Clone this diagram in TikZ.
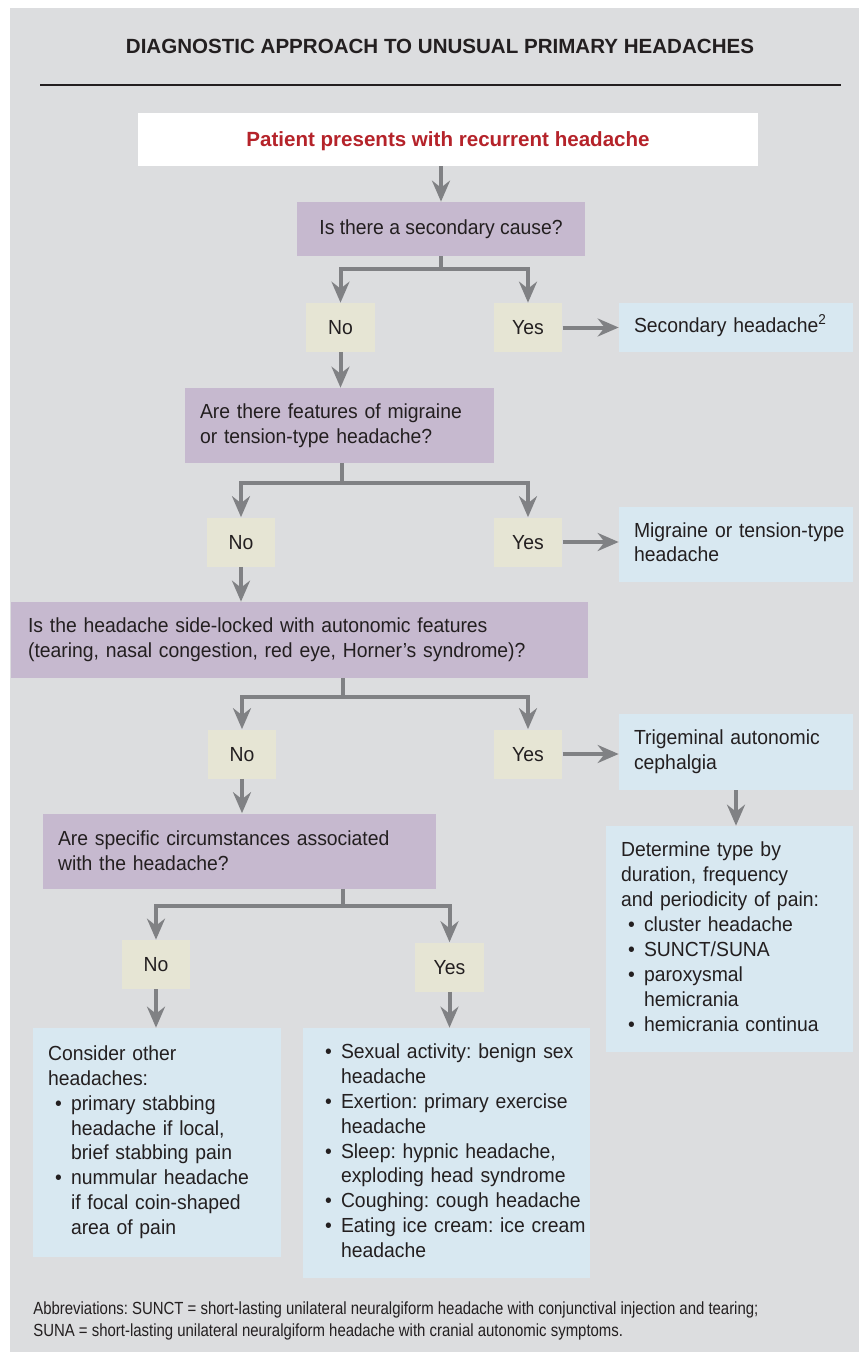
\documentclass[tikz,border=0pt]{standalone}
\usepackage{fontspec}
\setmainfont{Liberation Sans}
\newfontfamily\bodyfont[FakeStretch=0.95]{Liberation Sans}
\newfontfamily\notefont[FakeStretch=0.85]{Liberation Sans}
\usetikzlibrary{arrows.meta}

\definecolor{panelgray}{HTML}{DCDDDF}
\definecolor{qpurple}{HTML}{C6B9CF}
\definecolor{ansbeige}{HTML}{E6E5D4}
\definecolor{outblue}{HTML}{D8E8F1}
\definecolor{linkgray}{HTML}{808184}
\definecolor{headred}{HTML}{B5232A}
\definecolor{ink}{HTML}{231F20}

% bullet item, its continuation line, and unbreakable line block
\newcommand{\itm}{\hspace*{0.14cm}\makebox[0.32cm][l]{\textbullet}}
\newcommand{\cont}{\hspace*{0.46cm}}
\newcommand{\lines}[1]{\begin{tabular}{@{}l@{}}#1\end{tabular}}

\tikzset{
  box/.style={inner ysep=0pt, inner xsep=0.3cm, text=ink,
    font=\bodyfont\fontsize{11.6}{14.2}\selectfont\frenchspacing},
  qbox/.style={box, fill=qpurple, align=left},
  ansbox/.style={box, fill=ansbeige, inner xsep=0pt, text depth=0pt,
    minimum width=1.37cm, minimum height=0.98cm},
  outbox/.style={box, fill=outblue, align=left},
  link/.style={draw=linkgray, line width=0.08cm},
  arr/.style={link, -{Stealth[length=0.42cm,width=0.36cm,inset=0.14cm]}},
}

\begin{document}
\begin{tikzpicture}[x=0.02cm,y=-0.02cm]
  \useasboundingbox (0,0) rectangle (859,1355);
  \fill[panelgray] (10,8) rectangle (859,1352);

  \node[text=ink, font=\fontsize{11.7}{14}\selectfont\bfseries] (title) at (440,46)
    {DIAGNOSTIC APPROACH TO UNUSUAL PRIMARY HEADACHES};
  \draw[ink, line width=0.026cm] (40,85) -- (841,85);

  \node[fill=white, minimum width=12.4cm, minimum height=1.06cm, text=headred, text depth=0pt,
    font=\fontsize{11.7}{14}\selectfont\bfseries] (start) at (448,139.5)
    {Patient presents with recurrent headache};

  % questions
  \node[qbox, align=center, minimum width=5.76cm, minimum height=1.08cm] (q1) at (441,229)
    {Is there a secondary cause?};
  \node[qbox, text width=5.58cm, minimum height=1.5cm] (q2) at (339.5,425.5)
    {Are there features of migraine\\or tension-type headache?};
  \node[qbox, text width=10.94cm, minimum height=1.52cm] (q3) at (299.5,640)
    {\hspace*{0.04cm}Is the headache side-locked with autonomic features\\
     \hspace*{0.04cm}(tearing, nasal congestion, red eye, Horner’s syndrome)?};
  \node[qbox, text width=7.26cm, minimum height=1.5cm] (q4) at (239.5,851)
    {Are specific circumstances associated\\with the headache?};

  % answers
  \node[ansbox] (no1) at (340.5,327.5) {No};
  \node[ansbox] (yes1) at (528,327.5) {Yes};
  \node[ansbox] (no2) at (241,542) {No};
  \node[ansbox] (yes2) at (528,542) {Yes};
  \node[ansbox] (no3) at (242,754) {No};
  \node[ansbox] (yes3) at (528,754) {Yes};
  \node[ansbox] (no4) at (156,964.5) {No};
  \node[ansbox] (yes4) at (449.5,967) {Yes};

  % outcomes
  \node[outbox, text width=4.08cm, minimum height=0.98cm] (sec) at (736,327.5)
    {\lines{Secondary headache\textsuperscript{2}}};
  \node[outbox, text width=4.08cm, minimum height=1.5cm] (mig) at (736,544.5)
    {\lines{Migraine or tension-type\\headache}};
  \node[outbox, text width=4.08cm, minimum height=1.52cm] (tac) at (736,752)
    {\lines{Trigeminal autonomic\\cephalgia}};
  \node[outbox, text width=4.34cm, minimum height=4.52cm] (det) at (729.5,939)
    {\lines{Determine type by\\duration, frequency\\and periodicity of pain:\\
     \itm cluster headache\\\itm SUNCT/SUNA\\\itm paroxysmal\\\cont hemicrania\\
     \itm hemicrania continua}};
  \node[outbox, text width=4.36cm, minimum height=4.58cm] (other) at (157,1142.5)
    {\lines{Consider other\\headaches:\\\itm primary stabbing\\\cont headache if local,\\
     \cont brief stabbing pain\\\itm nummular headache\\\cont if focal coin-shaped\\
     \cont area of pain}};
  \node[outbox, text width=5.14cm, minimum height=5cm] (circ) at (446.5,1153)
    {\lines{\itm Sexual activity: benign sex\\\cont headache\\\itm Exertion: primary exercise\\
     \cont headache\\\itm Sleep: hypnic headache,\\\cont exploding head syndrome\\
     \itm Coughing: cough headache\\\itm Eating ice cream: ice cream\\\cont headache}};

  \node[anchor=north west, align=left, text=ink, inner sep=0pt,
    font=\notefont\fontsize{10}{12.5}\selectfont\frenchspacing] (note) at (33,1301)
    {Abbreviations: SUNCT = short-lasting unilateral neuralgiform headache with conjunctival injection and tearing;\\
     SUNA = short-lasting unilateral neuralgiform headache with cranial autonomic symptoms.};

  % branch points
  \coordinate (b1) at (441,269);
  \coordinate (b2) at (342,483);
  \coordinate (b3) at (343,697);
  \coordinate (b4) at (343,906);

  % connectors
  \draw[arr] (q1.north |- start.south) -- (q1.north);
  \draw[link] (b1 |- q1.south) -- (b1);
  \draw[arr] (b1) -| (no1.north);
  \draw[arr] (b1) -| (yes1.north);
  \draw[arr] (yes1.east) -- (yes1.east -| sec.west);
  \draw[arr] (no1.south) -- (no1.south |- q2.north);

  \draw[link] (b2 |- q2.south) -- (b2);
  \draw[arr] (b2) -| (no2.north);
  \draw[arr] (b2) -| (yes2.north);
  \draw[arr] (yes2.east) -- (yes2.east -| mig.west);
  \draw[arr] (no2.south) -- (no2.south |- q3.north);

  \draw[link] (b3 |- q3.south) -- (b3);
  \draw[arr] (b3) -| (no3.north);
  \draw[arr] (b3) -| (yes3.north);
  \draw[arr] (yes3.east) -- (yes3.east -| tac.west);
  \draw[arr] (tac.south) -- (tac.south |- det.north);
  \draw[arr] (no3.south) -- (no3.south |- q4.north);

  \draw[link] (b4 |- q4.south) -- (b4);
  \draw[arr] (b4) -| (no4.north);
  \draw[arr] (b4) -| (yes4.north);
  \draw[arr] (no4.south) -- (no4.south |- other.north);
  \draw[arr] (yes4.south) -- (yes4.south |- circ.north);
\end{tikzpicture}
\end{document}
